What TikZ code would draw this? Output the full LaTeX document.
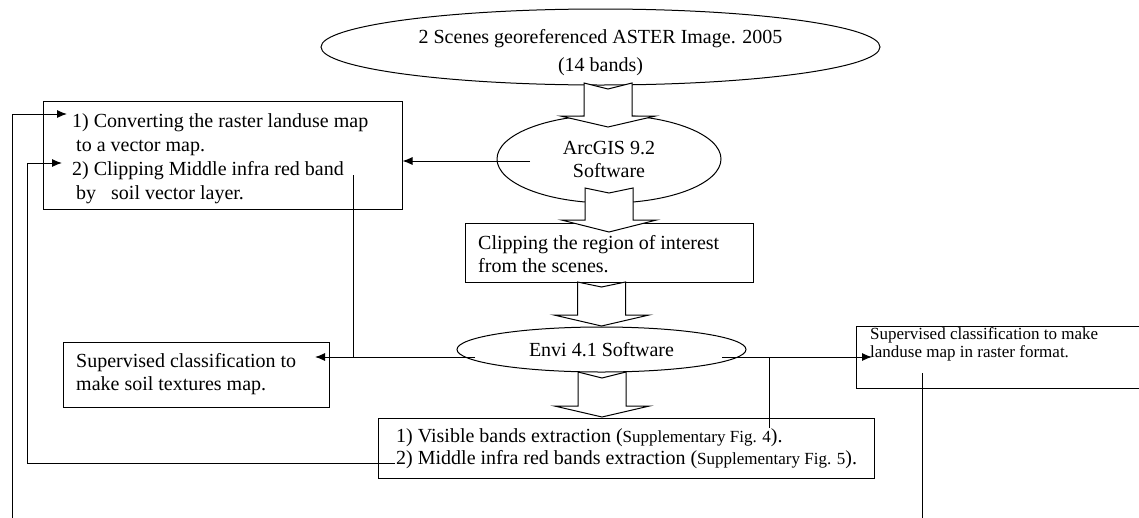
\documentclass[tikz,border=0pt]{standalone}
\usepackage{fontspec}
\setmainfont{Liberation Serif}
\usetikzlibrary{shapes.geometric,arrows.meta}
\newcommand\blkarrow[5]{%
  \filldraw[fill=white,line width=1pt,line join=miter]
    (#1-24,#2) -- (#1,#3) -- (#1+24,#2) -- (#1+24,#4) -- (#1+47.5,#4)
    -- (#1,#5) -- (#1-47.5,#4) -- (#1-24,#4) -- cycle;}
\begin{document}
\begin{tikzpicture}[x=1pt,y=-1pt,
  every node/.style={font=\fontsize{20}{24}\selectfont},
  boxnode/.style={draw,line width=1pt,rectangle,inner sep=0pt},
  ellnode/.style={draw,line width=1pt,ellipse,inner sep=0pt,align=center},
  txtnode/.style={align=left,inner sep=0pt,anchor=west},
  arr/.style={line width=1pt,-{Latex[length=10pt,width=8pt]}},
  ln/.style={line width=1pt}]
\useasboundingbox (0,0) rectangle (1139,517);
\clip (0,0) rectangle (1139,517);
% ellipses
\node[ellnode,minimum width=559pt,minimum height=76pt] (top) at (600.5,47) {};
\node[align=center,inner sep=0pt,font=\fontsize{20}{28}\selectfont] (toptxt) at (600.5,52.5)
  {2 Scenes georeferenced ASTER Image. 2005\\(14 bands)};
\node[ellnode,minimum width=224pt,minimum height=88pt,font=\fontsize{20}{23}\selectfont] (arc) at (609,159)
  {ArcGIS 9.2\\Software};
\node[ellnode,minimum width=289pt,minimum height=45pt] (envi) at (601.5,349.5)
  {Envi 4.1 Software};
% boxes
\node[boxnode,minimum width=359pt,minimum height=108pt] (lbox) at (222.5,155) {};
\node[txtnode] (ltxt) at (72,158.5) {1) Converting the raster landuse map\\
  \hspace*{4pt}to a vector map.\\
  2) Clipping Middle infra red band\\
  \hspace*{4pt}by\ \ \ soil vector layer.};
\node[boxnode,minimum width=288pt,minimum height=59pt] (clip) at (609,252.5) {};
\node[txtnode,font=\fontsize{20}{23}\selectfont] (cliptxt) at (478,254.5)
  {Clipping the region of interest\\from the scenes.};
\node[boxnode,minimum width=266pt,minimum height=65pt] (soil) at (196,374.5) {};
\node[txtnode,font=\fontsize{20}{23}\selectfont] (soiltxt) at (76,374)
  {Supervised classification to\\make soil textures map.};
\node[rectangle,inner sep=0pt,minimum width=330pt,minimum height=61pt] (rbox) at (1022,357.5) {};
\draw[ln] (rbox.north east) -- (rbox.north west) -- (rbox.south west) -- (rbox.south east);
\node[txtnode,font=\fontsize{17}{18}\selectfont] (rtxt) at (870,344)
  {Supervised classification to make\\landuse map in raster format.};
\node[boxnode,minimum width=496pt,minimum height=60pt] (bbox) at (626,448) {};
\node[txtnode,font=\fontsize{20}{22}\selectfont] (btxt) at (396,449)
  {1) Visible bands extraction ({\fontsize{17}{22}\selectfont Supplementary Fig. 4}).\\
   2) Middle infra red bands extraction ({\fontsize{17}{22}\selectfont Supplementary Fig. 5}).};
% block arrows
\blkarrow{608}{83}{89}{116}{127}
\blkarrow{609}{188}{193}{220}{232}
\blkarrow{601.5}{282}{287}{315}{326}
\blkarrow{602}{372}{378}{406}{417}
% connectors
\coordinate (p1) at (530,161);
\draw[arr] (p1) -- (p1 -| lbox.east);
\coordinate (p2) at (353,175);
\coordinate (p3) at (353,357);
\draw[ln] (p2) -- (p3);
\coordinate (p4) at (475,357);
\coordinate (p5) at (315,357);
\draw[arr] (p4) -- (p5);
\coordinate (p6) at (722,357);
\coordinate (p7) at (872,357);
\draw[arr] (p6) -- (p7);
\coordinate (p8) at (769,357);
\coordinate (p9) at (769,428);
\draw[ln] (p8) -- (p9);
\coordinate (p10) at (922,373);
\coordinate (p11) at (922,520);
\draw[ln] (p10) -- (p11);
\coordinate (q1) at (12,520);
\coordinate (q2) at (67,114);
\draw[arr] (q1) |- (q2);
\coordinate (q3) at (395,463);
\coordinate (q4) at (27,463);
\coordinate (q5) at (62,163);
\draw[arr] (q3) -- (q4) |- (q5);
\end{tikzpicture}
\end{document}
